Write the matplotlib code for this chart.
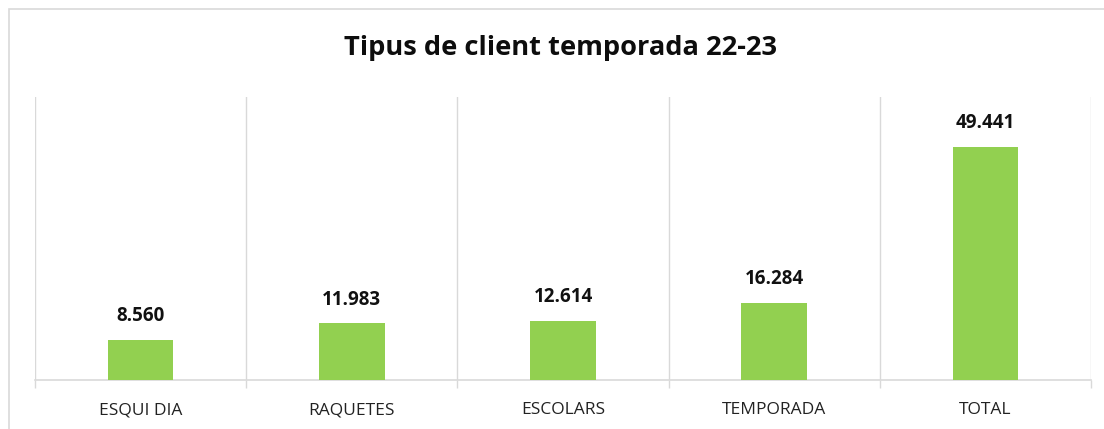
import matplotlib.pyplot as plt
import numpy as np
from matplotlib.patches import Rectangle

# Data
categories = ["ESQUI DIA", "RAQUETES", "ESCOLARS", "TEMPORADA", "TOTAL"]
values = [8560, 11983, 12614, 16284, 49441]
labels = ["8.560", "11.983", "12.614", "16.284", "49.441"]

plt.rcParams['font.family'] = ['Open Sans', 'DejaVu Sans']

W, H = 1104, 429
fig = plt.figure(figsize=(W / 100, H / 100), dpi=100)

# Light chart border (left and top visible, rest runs off the image)
fig.patches.append(Rectangle((9 / W, -0.1), 1.2, (H - 9) / H + 0.1,
                             transform=fig.transFigure, fill=False,
                             edgecolor='#d9d9d9', linewidth=1.2))

ax = fig.add_axes([35 / W, 1 - 380 / H, (1091 - 35) / W, (380 - 97) / H])

x = np.arange(len(categories))
ax.bar(x, values, width=0.31, color='#92D050', zorder=3)

for xi, v, lab in zip(x, values, labels):
    ax.annotate(lab, (xi, v), xytext=(0, 10), textcoords='offset points',
                ha='center', va='bottom', fontsize=13.5, fontweight='bold',
                color='#111111')

ax.set_xlim(-0.5, len(categories) - 0.5)
ax.set_ylim(0, 60000)

ax.set_xticks(x)
ax.set_xticklabels(categories, fontsize=12.5, color='#222222')
ax.tick_params(axis='x', which='major', length=0, pad=16)
ax.set_xticks(np.arange(-0.5, len(categories)), minor=True)
ax.tick_params(axis='x', which='minor', length=6, color='#d9d9d9', width=1)
ax.grid(axis='x', which='minor', color='#d9d9d9', linewidth=1, zorder=0)
ax.set_yticks([])

for s in ['top', 'left', 'right']:
    ax.spines[s].set_visible(False)
ax.spines['bottom'].set_color('#d9d9d9')
ax.spines['bottom'].set_linewidth(1.2)

fig.text((345 + 777) / 2 / W, 1 - 48 / H, "Tipus de client temporada 22-23",
         ha='center', va='center', fontsize=19.6, fontweight='bold', color='#0d0d0d')

fig.savefig("out.png", dpi=100, facecolor='white')
